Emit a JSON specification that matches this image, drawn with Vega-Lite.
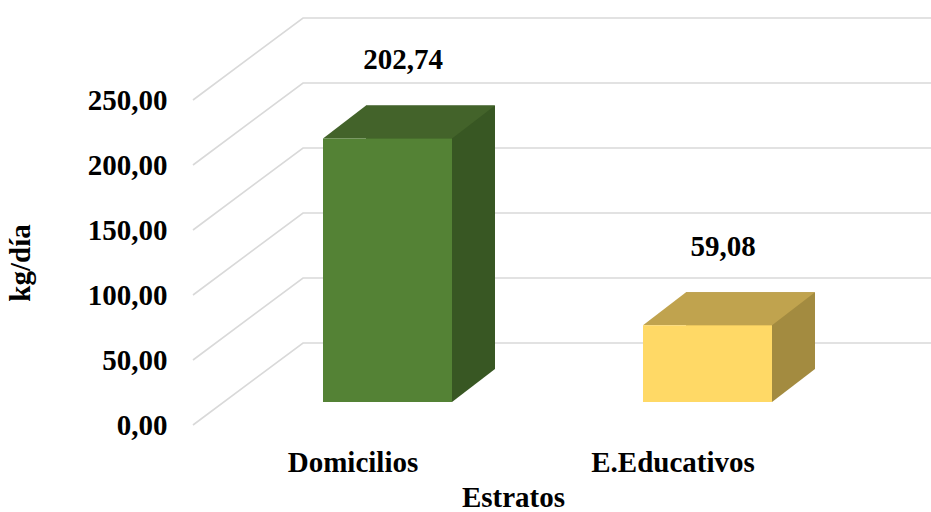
{
  "$schema": "https://vega.github.io/schema/vega-lite/v6.json",
  "width": 640,
  "height": 325,
  "autosize": {"type": "none"},
  "padding": {"left": 193, "top": 100, "right": 98, "bottom": 87},
  "background": "white",
  "config": {
    "view": {"stroke": null},
    "font": "Liberation Serif",
    "locale": {"number": {"decimal": ",", "thousands": ".", "grouping": [3], "currency": ["", " €"]}}
  },
  "datasets": {
    "bars": [
      {"estrato": "Domicilios", "kg": 202.74},
      {"estrato": "E.Educativos", "kg": 59.08}
    ],
    "ticks": [{"t": 0}, {"t": 50}, {"t": 100}, {"t": 150}, {"t": 200}, {"t": 250}]
  },
  "layer": [
    {
      "data": {"name": "ticks"},
      "mark": {"type": "point", "shape": "M -160 0 L -50 -82 L 578 -82", "size": 4, "filled": false, "stroke": "#d9d9d9", "strokeWidth": 1.6, "opacity": 1},
      "encoding": {
        "x": {"datum": "Domicilios", "type": "nominal", "scale": {"type": "band", "domain": ["Domicilios", "E.Educativos"], "paddingInner": 0, "paddingOuter": 0},
          "axis": {"title": "Estratos", "labelAngle": 0, "domain": false, "ticks": false, "grid": false, "labelPadding": 23, "labelFontSize": 29, "labelFontWeight": "bold", "labelColor": "#000000", "titleFontSize": 29, "titleFontWeight": "bold", "titleColor": "#000000", "titlePadding": 6}},
        "y": {"field": "t", "type": "quantitative", "scale": {"domain": [0, 250], "nice": false},
          "axis": {"title": "kg/día", "values": [0, 50, 100, 150, 200, 250], "format": ".2f", "grid": false, "domain": false, "ticks": false, "labelPadding": 26, "labelFontSize": 29, "labelFontWeight": "bold", "labelColor": "#000000", "titleFontSize": 29, "titleFontWeight": "bold", "titleColor": "#000000", "titlePadding": 52}}
      }
    },
    {
      "data": {"name": "bars"},
      "mark": {"type": "bar", "width": 129, "xOffset": 77.5, "yOffset": -56, "y2Offset": -56, "stroke": null},
      "encoding": {
        "x": {"field": "estrato", "type": "nominal", "scale": {"type": "band", "domain": ["Domicilios", "E.Educativos"], "paddingInner": 0, "paddingOuter": 0},
          "axis": {"title": "Estratos", "labelAngle": 0, "domain": false, "ticks": false, "grid": false, "labelPadding": 23, "labelFontSize": 29, "labelFontWeight": "bold", "labelColor": "#000000", "titleFontSize": 29, "titleFontWeight": "bold", "titleColor": "#000000", "titlePadding": 6}},
        "y": {"field": "kg", "type": "quantitative", "scale": {"domain": [0, 250], "nice": false},
          "axis": {"title": "kg/día", "values": [0, 50, 100, 150, 200, 250], "format": ".2f", "grid": false, "domain": false, "ticks": false, "labelPadding": 26, "labelFontSize": 29, "labelFontWeight": "bold", "labelColor": "#000000", "titleFontSize": 29, "titleFontWeight": "bold", "titleColor": "#000000", "titlePadding": 52}},
        "y2": {"datum": 0},
        "fill": {"condition": {"test": "datum.estrato === 'Domicilios'", "value": "#385723"}, "value": "#A38B40"}
      }
    },
    {
      "data": {"name": "bars"},
      "mark": {"type": "point", "shape": "M 99 -23 L 99 -56 L 142 -56 Z", "size": 4, "filled": true, "opacity": 1, "strokeWidth": 0},
      "encoding": {
        "x": {"field": "estrato", "type": "nominal", "scale": {"type": "band", "domain": ["Domicilios", "E.Educativos"], "paddingInner": 0, "paddingOuter": 0},
          "axis": {"title": "Estratos", "labelAngle": 0, "domain": false, "ticks": false, "grid": false, "labelPadding": 23, "labelFontSize": 29, "labelFontWeight": "bold", "labelColor": "#000000", "titleFontSize": 29, "titleFontWeight": "bold", "titleColor": "#000000", "titlePadding": 6}},
        "y": {"datum": 0, "type": "quantitative", "scale": {"domain": [0, 250], "nice": false},
          "axis": {"title": "kg/día", "values": [0, 50, 100, 150, 200, 250], "format": ".2f", "grid": false, "domain": false, "ticks": false, "labelPadding": 26, "labelFontSize": 29, "labelFontWeight": "bold", "labelColor": "#000000", "titleFontSize": 29, "titleFontWeight": "bold", "titleColor": "#000000", "titlePadding": 52}},
        "fill": {"condition": {"test": "datum.estrato === 'Domicilios'", "value": "#385723"}, "value": "#A38B40"}
      }
    },
    {
      "data": {"name": "bars"},
      "mark": {"type": "point", "shape": "M -30 -23 L 99 -23 L 142 -56 L 13 -56 Z", "size": 4, "filled": true, "opacity": 1, "strokeWidth": 0},
      "encoding": {
        "x": {"field": "estrato", "type": "nominal", "scale": {"type": "band", "domain": ["Domicilios", "E.Educativos"], "paddingInner": 0, "paddingOuter": 0},
          "axis": {"title": "Estratos", "labelAngle": 0, "domain": false, "ticks": false, "grid": false, "labelPadding": 23, "labelFontSize": 29, "labelFontWeight": "bold", "labelColor": "#000000", "titleFontSize": 29, "titleFontWeight": "bold", "titleColor": "#000000", "titlePadding": 6}},
        "y": {"field": "kg", "type": "quantitative", "scale": {"domain": [0, 250], "nice": false},
          "axis": {"title": "kg/día", "values": [0, 50, 100, 150, 200, 250], "format": ".2f", "grid": false, "domain": false, "ticks": false, "labelPadding": 26, "labelFontSize": 29, "labelFontWeight": "bold", "labelColor": "#000000", "titleFontSize": 29, "titleFontWeight": "bold", "titleColor": "#000000", "titlePadding": 52}},
        "fill": {"condition": {"test": "datum.estrato === 'Domicilios'", "value": "#43632A"}, "value": "#C0A34E"}
      }
    },
    {
      "data": {"name": "bars"},
      "mark": {"type": "bar", "width": 129, "xOffset": 34.5, "yOffset": -23, "y2Offset": -23, "stroke": null},
      "encoding": {
        "x": {"field": "estrato", "type": "nominal", "scale": {"type": "band", "domain": ["Domicilios", "E.Educativos"], "paddingInner": 0, "paddingOuter": 0},
          "axis": {"title": "Estratos", "labelAngle": 0, "domain": false, "ticks": false, "grid": false, "labelPadding": 23, "labelFontSize": 29, "labelFontWeight": "bold", "labelColor": "#000000", "titleFontSize": 29, "titleFontWeight": "bold", "titleColor": "#000000", "titlePadding": 6}},
        "y": {"field": "kg", "type": "quantitative", "scale": {"domain": [0, 250], "nice": false},
          "axis": {"title": "kg/día", "values": [0, 50, 100, 150, 200, 250], "format": ".2f", "grid": false, "domain": false, "ticks": false, "labelPadding": 26, "labelFontSize": 29, "labelFontWeight": "bold", "labelColor": "#000000", "titleFontSize": 29, "titleFontWeight": "bold", "titleColor": "#000000", "titlePadding": 52}},
        "y2": {"datum": 0},
        "fill": {"condition": {"test": "datum.estrato === 'Domicilios'", "value": "#548235"}, "value": "#FFD966"}
      }
    },
    {
      "data": {"name": "bars"},
      "mark": {"type": "text", "dx": 50, "dy": -101, "align": "center", "baseline": "middle", "fontSize": 29, "fontWeight": "bold", "color": "#000000"},
      "encoding": {
        "x": {"field": "estrato", "type": "nominal", "scale": {"type": "band", "domain": ["Domicilios", "E.Educativos"], "paddingInner": 0, "paddingOuter": 0},
          "axis": {"title": "Estratos", "labelAngle": 0, "domain": false, "ticks": false, "grid": false, "labelPadding": 23, "labelFontSize": 29, "labelFontWeight": "bold", "labelColor": "#000000", "titleFontSize": 29, "titleFontWeight": "bold", "titleColor": "#000000", "titlePadding": 6}},
        "y": {"field": "kg", "type": "quantitative", "scale": {"domain": [0, 250], "nice": false},
          "axis": {"title": "kg/día", "values": [0, 50, 100, 150, 200, 250], "format": ".2f", "grid": false, "domain": false, "ticks": false, "labelPadding": 26, "labelFontSize": 29, "labelFontWeight": "bold", "labelColor": "#000000", "titleFontSize": 29, "titleFontWeight": "bold", "titleColor": "#000000", "titlePadding": 52}},
        "text": {"field": "kg", "type": "quantitative", "format": ".2f"}
      }
    }
  ]
}
